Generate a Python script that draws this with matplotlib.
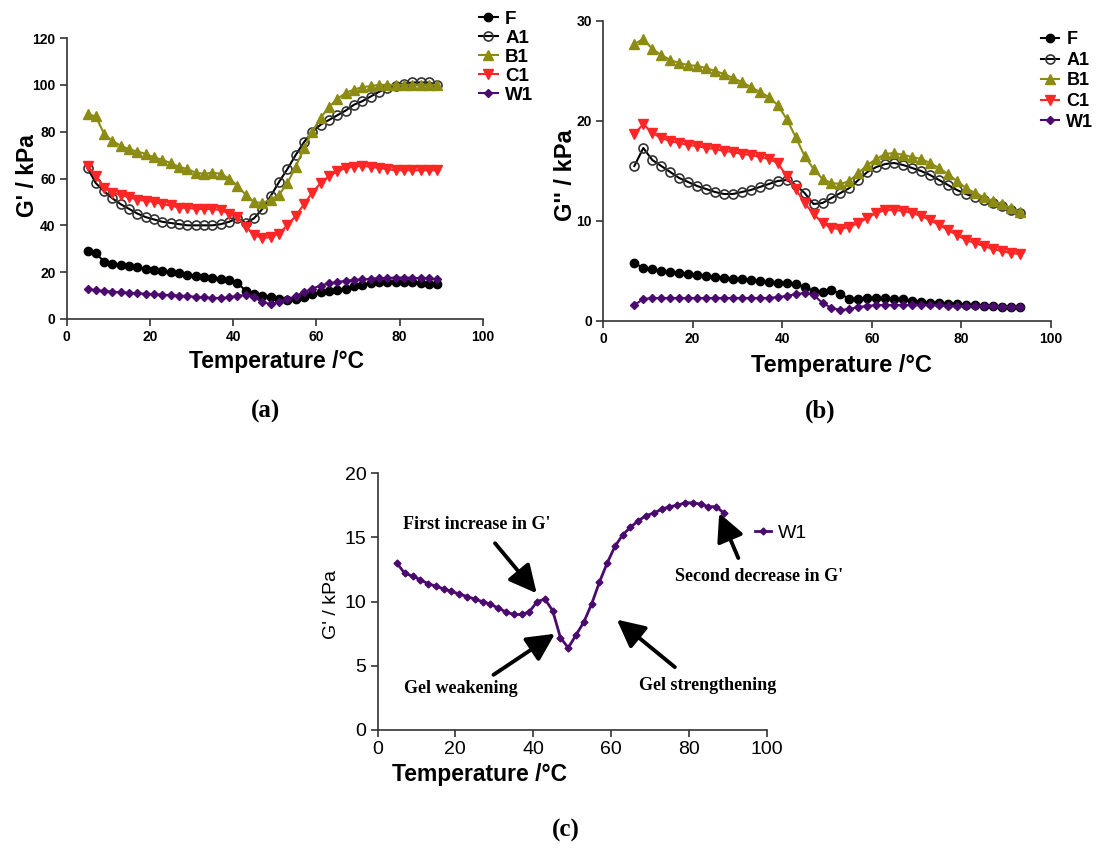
import matplotlib
matplotlib.use("Agg")
import matplotlib.pyplot as plt

plt.rcParams['font.family'] = ['Liberation Sans', 'DejaVu Sans']

# temperature steps (deg C)
temp_a = [5, 7, 9, 11, 13, 15, 17, 19, 21, 23, 25, 27, 29, 31, 33, 35, 37, 39, 41, 43, 45,
          47, 49, 51, 53, 55, 57, 59, 61, 63, 65, 67, 69, 71, 73, 75, 77, 79, 81, 83, 85, 87, 89]
temp_b = [7, 9, 11, 13, 15, 17, 19, 21, 23, 25, 27, 29, 31, 33, 35, 37, 39, 41, 43, 45, 47,
          49, 51, 53, 55, 57, 59, 61, 63, 65, 67, 69, 71, 73, 75, 77, 79, 81, 83, 85, 87, 89, 91, 93]

# (a) G' / kPa
F_a = [29, 28, 24.5, 23.5, 23, 22.5, 22, 21.5, 21, 20.5, 20, 19.5, 19, 18.5, 18, 17.5, 17, 16.5,
       15.5, 12, 10.5, 10, 9.5, 8.5, 8, 8.5, 9.5, 10.5, 11.5, 12, 12.5, 13, 14, 14.5, 15.5, 16,
       16, 16, 16, 16, 15.5, 15, 15]
A1_a = [64.5, 58, 54.5, 51.5, 49, 47, 45, 43.5, 42.5, 41.5, 41, 40.5, 40, 40, 40, 40, 40.5, 41.5,
        43, 41, 43, 47, 52.5, 58.5, 64, 70, 75.5, 80, 83, 85, 87, 89, 91.5, 93, 95, 97, 98.5,
        99.5, 100.5, 101, 101, 101, 100]
B1_a = [87.5, 86.5, 79, 76, 74, 72.5, 71.5, 70.5, 69, 68, 66.5, 65, 64, 62.5, 62, 62.5, 62, 60,
        57, 53, 50, 49.5, 51, 53, 58, 65, 73, 80, 86, 90.5, 94, 96.5, 98, 99, 99.5, 100, 100,
        100, 100, 100, 100, 100, 100]
C1_a = [65.5, 61, 56, 54, 53, 52, 51, 50.5, 50, 49, 48.5, 47.5, 47.5, 47, 47, 47, 46.5, 45,
        43.5, 39.5, 36, 34.5, 35, 36.5, 40, 44, 49, 54, 58, 61, 63, 64.5, 65, 65.5, 65, 64.5,
        64, 63.5, 63.5, 63.5, 63.5, 63.5, 63.5]
W1_a = [13, 12.2, 12, 11.7, 11.4, 11.2, 11, 10.8, 10.6, 10.4, 10.2, 10, 9.8, 9.5, 9.2, 9.0, 9.0,
        9.2, 10, 10.2, 9.3, 7.2, 6.4, 7.4, 8.4, 9.8, 11.5, 13, 14.3, 15.2, 15.8, 16.3, 16.7, 16.9,
        17.2, 17.4, 17.5, 17.7, 17.7, 17.6, 17.4, 17.4, 16.9]

# (b) G'' / kPa
F_b = [5.8, 5.3, 5.2, 5.0, 4.9, 4.8, 4.7, 4.6, 4.5, 4.4, 4.3, 4.2, 4.2, 4.1, 4.0, 3.9, 3.8, 3.8,
       3.7, 3.4, 3.0, 2.9, 3.1, 2.7, 2.2, 2.2, 2.3, 2.3, 2.3, 2.2, 2.2, 2.0, 1.9, 1.8, 1.8, 1.7,
       1.7, 1.6, 1.6, 1.5, 1.5, 1.4, 1.4, 1.4]
A1_b = [15.5, 17.3, 16.1, 15.5, 14.9, 14.3, 13.9, 13.5, 13.2, 12.9, 12.7, 12.7, 12.9, 13.1, 13.4,
        13.7, 14.0, 14.1, 13.6, 12.8, 11.7, 11.8, 12.3, 12.8, 13.3, 14.1, 14.9, 15.4, 15.7, 15.8,
        15.6, 15.3, 15.0, 14.6, 14.1, 13.6, 13.1, 12.7, 12.4, 12.1, 11.8, 11.5, 11.1, 10.8]
B1_b = [27.7, 28.2, 27.2, 26.6, 26.1, 25.8, 25.6, 25.5, 25.3, 25.0, 24.7, 24.3, 23.9, 23.4, 22.9,
        22.4, 21.6, 20.2, 18.4, 16.5, 15.2, 14.2, 13.8, 13.7, 14.0, 14.8, 15.6, 16.2, 16.7, 16.8,
        16.6, 16.4, 16.2, 15.8, 15.3, 14.7, 14.0, 13.3, 12.8, 12.4, 12.0, 11.7, 11.3, 10.9]
C1_b = [18.7, 19.7, 18.8, 18.3, 18.0, 17.8, 17.6, 17.5, 17.3, 17.2, 17.0, 16.9, 16.7, 16.6, 16.4,
        16.2, 15.8, 14.5, 13.2, 11.8, 10.7, 9.8, 9.3, 9.2, 9.4, 9.8, 10.3, 10.8, 11.1, 11.1, 11.0,
        10.8, 10.5, 10.1, 9.6, 9.1, 8.6, 8.1, 7.8, 7.5, 7.2, 7.0, 6.8, 6.7]
W1_b = [1.6, 2.2, 2.3, 2.3, 2.3, 2.3, 2.3, 2.3, 2.3, 2.3, 2.3, 2.3, 2.3, 2.3, 2.3, 2.3, 2.4, 2.5,
        2.7, 2.8, 2.6, 1.8, 1.3, 1.1, 1.2, 1.4, 1.5, 1.6, 1.6, 1.6, 1.6, 1.6, 1.6, 1.6, 1.6, 1.5,
        1.5, 1.5, 1.5, 1.5, 1.5, 1.4, 1.4, 1.4]

labels = ['F', 'A1', 'B1', 'C1', 'W1']
olive = '#8c8c14'
red = '#ff2626'
purple = '#4b0a6e'

fig = plt.figure(figsize=(10.97, 8.5), dpi=100)


def style_axes(ax, tick_size, bold):
    for s in ['top', 'right']:
        ax.spines[s].set_visible(False)
    for s in ['left', 'bottom']:
        ax.spines[s].set_linewidth(1.2)
        ax.spines[s].set_color('#333333')
    ax.tick_params(direction='out', length=5, width=1.2, color='#333333',
                   labelsize=tick_size, pad=3)
    for lab in ax.get_xticklabels() + ax.get_yticklabels():
        lab.set_fontweight('bold' if bold else 'normal')


def draw_series(ax, t, F, A1, B1, C1, W1):
    ax.plot(t, F, '-o', color='black', ms=6, lw=1.5, label=labels[0])
    ax.plot(t, A1, '-o', color='black', mfc='none', mec='#333333', mew=1.2, ms=6.5, lw=1.5,
            label=labels[1])
    ax.plot(t, B1, '-^', color=olive, ms=7, lw=1.5, label=labels[2])
    ax.plot(t, C1, '-v', color=red, ms=7, lw=1.5, label=labels[3])
    ax.plot(t, W1, '-D', color=purple, ms=4.5, lw=1.5, label=labels[4])


# (a)
ax1 = fig.add_axes([66.7 / 1097, 1 - 319 / 850, 416.3 / 1097, 281 / 850])
draw_series(ax1, temp_a, F_a, A1_a, B1_a, C1_a, W1_a)
ax1.set_xlim(0, 100)
ax1.set_ylim(0, 120)
ax1.set_xticks([0, 20, 40, 60, 80, 100])
ax1.set_yticks([0, 20, 40, 60, 80, 100, 120])
style_axes(ax1, 10, True)
ax1.set_xlabel('Temperature /°C', fontsize=16.5, fontweight='bold')
ax1.set_ylabel("G' / kPa", fontsize=16.5, fontweight='bold')
ax1.xaxis.set_label_coords(0.503, -0.153)
ax1.yaxis.set_label_coords(-0.095, 0.51)
ax1.xaxis.label.set_va('center')
ax1.yaxis.label.set_va('center')
ax1.legend(loc='center left', bbox_to_anchor=(479 / 1097, 1 - 57 / 850),
           bbox_transform=fig.transFigure, frameon=False, borderpad=0, borderaxespad=0,
           handlelength=1.0, handletextpad=0.4, labelspacing=0.1,
           prop={'weight': 'bold', 'size': 13.5})

# (b)
ax2 = fig.add_axes([603 / 1097, 1 - 321 / 850, 448 / 1097, 300 / 850])
draw_series(ax2, temp_b, F_b, A1_b, B1_b, C1_b, W1_b)
ax2.set_xlim(0, 100)
ax2.set_ylim(0, 30)
ax2.set_xticks([0, 20, 40, 60, 80, 100])
ax2.set_yticks([0, 10, 20, 30])
style_axes(ax2, 10, True)
ax2.set_xlabel('Temperature /°C', fontsize=17, fontweight='bold')
ax2.set_ylabel("G'' / kPa", fontsize=17, fontweight='bold')
ax2.xaxis.set_label_coords(0.533, -0.147)
ax2.yaxis.set_label_coords(-0.083, 0.487)
ax2.xaxis.label.set_va('center')
ax2.yaxis.label.set_va('center')
ax2.legend(loc='center left', bbox_to_anchor=(1041 / 1097, 1 - 81 / 850),
           bbox_transform=fig.transFigure, frameon=False, borderpad=0, borderaxespad=0,
           handlelength=1.0, handletextpad=0.4, labelspacing=0.2,
           prop={'weight': 'bold', 'size': 13})

# (c) W1 only, with notes
ax3 = fig.add_axes([377.5 / 1097, 1 - 730 / 850, 389.2 / 1097, 256.7 / 850])
ax3.plot(temp_a, W1_a, '-D', color=purple, ms=3.5, lw=2, label='W1')
ax3.set_xlim(0, 100)
ax3.set_ylim(0, 20)
ax3.set_xticks([0, 20, 40, 60, 80, 100])
ax3.set_yticks([0, 5, 10, 15, 20])
style_axes(ax3, 14, False)
ax3.set_xlabel('Temperature /°C', fontsize=16.5, fontweight='bold')
ax3.set_ylabel("G' / kPa", fontsize=14)
ax3.xaxis.set_label_coords(0.263, -0.175)
ax3.yaxis.set_label_coords(-0.118, 0.487)
ax3.xaxis.label.set_va('center')
ax3.yaxis.label.set_va('center')
ax3.legend(loc='center left', bbox_to_anchor=(755 / 1097, 1 - 533 / 850),
           bbox_transform=fig.transFigure, frameon=False, borderpad=0, borderaxespad=0,
           handlelength=0.8, handletextpad=0.4, prop={'size': 14})

serif = ['Liberation Serif', 'DejaVu Serif']
arrow = dict(arrowstyle='-|>,head_length=0.7,head_width=0.35', lw=2.8, color='black',
             mutation_scale=24, shrinkA=0, shrinkB=0)
notes = [("First increase in G'", (6.5, 16.0), (30.2, 14.55), (40.9, 10.65)),
         ('Gel weakening', (6.8, 3.2), (29.8, 4.3), (45.6, 7.5)),
         ('Gel strengthening', (67.2, 3.5), (76.4, 4.9), (61.5, 8.6)),
         ("Second decrease in G'", (76.4, 11.95), (92.7, 13.4), (87.8, 16.9))]
for txt, pos, tail, head in notes:
    ax3.text(pos[0], pos[1], txt, family=serif, fontweight='bold', fontsize=13,
             ha='left', va='center', clip_on=False)
    ax3.annotate('', xy=head, xytext=tail, arrowprops=arrow, annotation_clip=False)

for txt, x, y in [('(a)', 265, 411), ('(b)', 820, 411), ('(c)', 566, 830)]:
    fig.text(x / 1097, 1 - y / 850, txt, family=serif, fontweight='bold', fontsize=18,
             ha='center', va='center')

fig.savefig('out.png', dpi=100)
